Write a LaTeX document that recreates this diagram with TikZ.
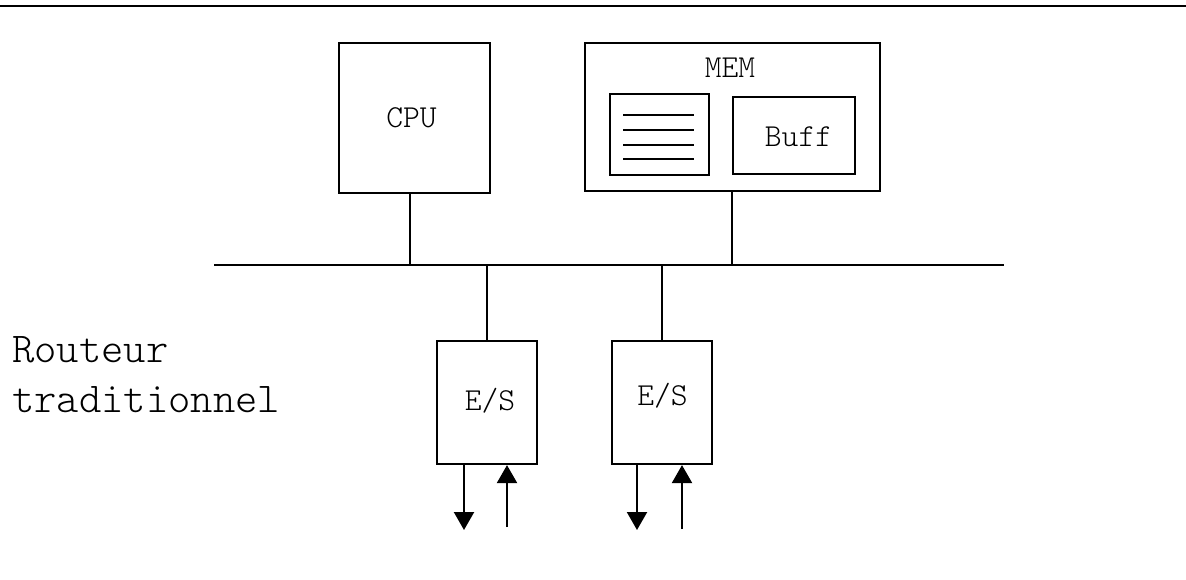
\documentclass[tikz,border=0pt]{standalone}
\usetikzlibrary{arrows.meta}
\tikzset{
  unit/.style={draw, line width=2.2pt, minimum width=0pt, inner sep=0pt},
  wire/.style={line width=2.2pt},
  lbl/.style={font=\ttfamily\fontseries{l}\fontsize{32}{34}\selectfont, inner sep=0pt, anchor=base},
  legend/.style={font=\ttfamily\fontseries{l}\fontsize{42.5}{50}\selectfont, inner sep=0pt, anchor=base west},
  flow/.style={line width=2.2pt, -{Triangle[width=20pt,length=18pt]}},
}
\begin{document}
\begin{tikzpicture}[x=1pt,y=-1pt]
\useasboundingbox (0,0) rectangle (1186,579);
% rule across the top
\coordinate (rl) at (0,6);
\coordinate (rr) at (1186,6);
\draw[wire] (rl) -- (rr);

% CPU
\node[unit, minimum width=151pt, minimum height=150pt] (cpu) at (414.5,118) {};
\node[lbl] (cputxt) at (411.5,127) {CPU};

% memory with its two blocks
\node[unit, minimum width=295pt, minimum height=148pt] (mem) at (732.5,117) {};
\node[lbl] (memtxt) at (730,77) {MEM};
\node[unit, minimum width=99pt, minimum height=81pt] (tab) at (659.5,134.5) {};
\foreach \yy [count=\i] in {115,130,145,159}{
  \coordinate (ta\i) at (623,\yy);
  \coordinate (tb\i) at (694,\yy);
  \draw[wire] (ta\i) -- (tb\i);
}
\node[unit, minimum width=122pt, minimum height=77pt] (buf) at (794,135.5) {};
\node[lbl] (buftxt) at (798.5,146) {Buff};

% system bus
\coordinate (busl) at (214,265);
\coordinate (busr) at (1004,265);
\draw[wire] (busl) -- (busr);
\coordinate (bcpu) at (410,265);
\coordinate (bmem) at (732,265);
\coordinate (bes1) at (487,265);
\coordinate (bes2) at (662,265);
\draw[wire] (cpu.south -| bcpu) -- (bcpu);
\draw[wire] (mem.south -| bmem) -- (bmem);

% input/output units
\node[unit, minimum width=100pt, minimum height=123pt] (es1) at (487,402.5) {};
\node[lbl] (es1txt) at (490,410) {E/S};
\node[unit, minimum width=100pt, minimum height=123pt] (es2) at (662,402.5) {};
\node[lbl] (es2txt) at (662.5,405) {E/S};
\draw[wire] (bes1) -- (es1.north);
\draw[wire] (bes2) -- (es2.north);

% traffic in and out
\coordinate (o1) at (464,530);
\coordinate (i1) at (507,527);
\coordinate (o2) at (637,530);
\coordinate (i2) at (682,529);
\draw[flow] (es1.south -| o1) -- (o1);
\draw[flow] (i1) -- (es1.south -| i1);
\draw[flow] (es2.south -| o2) -- (o2);
\draw[flow] (i2) -- (es2.south -| i2);

% caption
\node[legend] (cap1) at (12,362) {Routeur};
\node[legend] (cap2) at (12,412) {traditionnel};
\end{tikzpicture}
\end{document}
